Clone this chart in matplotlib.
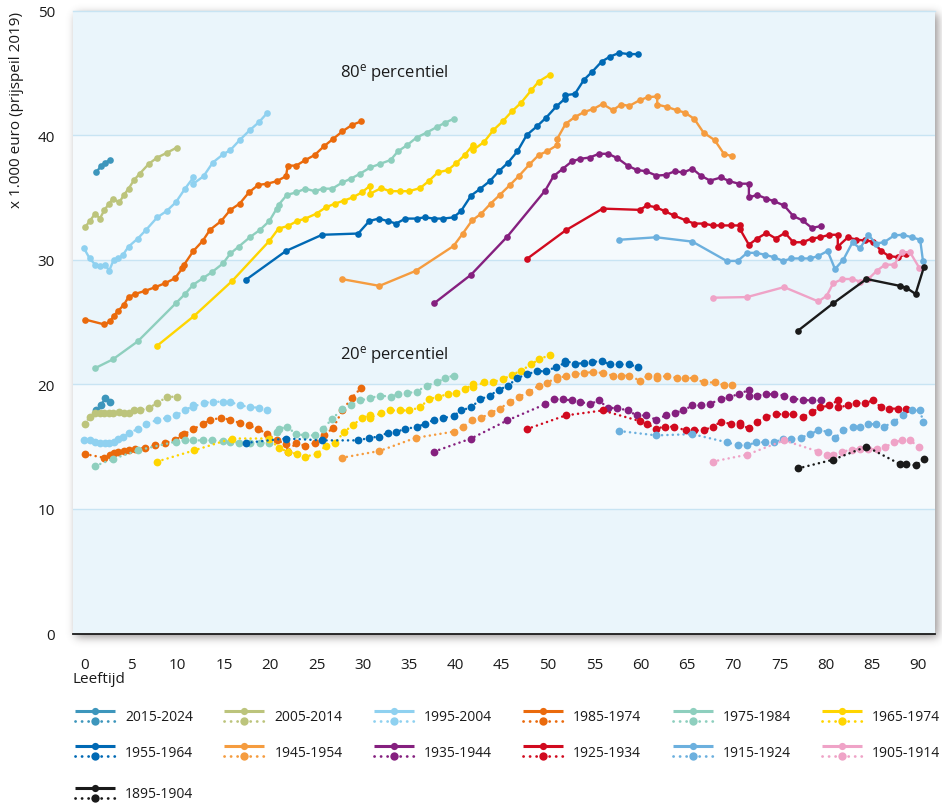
import numpy as np
import matplotlib
matplotlib.use("Agg")
import matplotlib.pyplot as plt
from matplotlib.lines import Line2D
from matplotlib.legend_handler import HandlerBase

plt.rcParams['font.family'] = ['Open Sans', 'DejaVu Sans']
plt.rcParams['mathtext.default'] = 'regular'

# ---------------- data ----------------
cohort_labels = ["2015-2024", "2005-2014", "1995-2004", "1985-1974", "1975-1984", "1965-1974",
                 "1955-1964", "1945-1954", "1935-1944", "1925-1934", "1915-1924", "1905-1914",
                 "1895-1904"]
cohort_colors = ["#3d96bc", "#bcc47c", "#8fd1f0", "#ea6a0c", "#8ecfbe", "#ffd500",
                 "#0069b4", "#f59c3f", "#85207f", "#d10a1f", "#6cb0de", "#efa3c7",
                 "#1a1a1a"]

age_2015 = [1.2, 1.7, 2.2, 2.7]
p80_2015 = [37.0, 37.5, 37.8, 38.0]
p20_2015 = [17.9, 18.3, 18.9, 18.6]

age_2005 = [0.0, 0.5, 1.1, 1.6, 2.1, 2.6, 3.0, 3.7, 4.2, 4.7, 5.3, 5.9, 6.9, 7.8, 8.9, 9.9]
p80_2005 = [32.6, 33.1, 33.7, 33.3, 34.0, 34.5, 34.9, 34.6, 35.2, 35.7, 36.4, 36.9, 37.7, 38.2, 38.6, 39.0]
p20_2005 = [16.8, 17.4, 17.7, 17.7, 17.7, 17.7, 17.7, 17.8, 17.7, 17.7, 17.9, 17.9, 18.1, 18.5, 19.0, 19.0]

age_1995 = [-0.1, 0.5, 1.1, 1.6, 2.2, 2.6, 3.1, 3.6, 4.1, 4.7, 5.7, 6.6, 7.8, 8.8, 9.8, 10.8, 11.7, 11.7,
            12.8, 13.8, 14.9, 15.7, 16.7, 17.8, 18.8, 19.7]
p80_1995 = [30.9, 30.1, 29.6, 29.5, 29.6, 29.1, 30.0, 30.1, 30.4, 31.05, 31.7, 32.4, 33.4, 33.9, 34.6, 35.7,
            36.6, 36.1, 36.7, 37.8, 38.45, 38.8, 39.6, 40.4, 41.05, 41.8]
p20_1995 = [15.5, 15.5, 15.4, 15.3, 15.3, 15.3, 15.4, 15.6, 15.8, 16.1, 16.4, 16.8, 17.15, 17.3, 17.5, 17.9,
            18.3, 18.2, 18.5, 18.6, 18.6, 18.6, 18.3, 18.2, 18.1, 17.9]

age_1985 = [0.0, 2.1, 2.7, 3.1, 3.6, 4.2, 4.7, 5.4, 6.5, 7.6, 8.6, 9.7, 10.5, 10.7, 11.7, 12.7, 13.5, 14.7,
            15.7, 16.7, 17.7, 18.7, 19.7, 20.7, 21.7, 21.9, 22.8, 23.8, 24.8, 25.8, 26.8, 27.8, 28.8, 29.8]
p80_1985 = [25.2, 24.8, 25.05, 25.5, 25.9, 26.4, 27.0, 27.25, 27.5, 27.8, 28.1, 28.5, 29.3, 29.6, 30.7, 31.5,
            32.4, 33.1, 34.0, 34.5, 35.4, 36.0, 36.1, 36.3, 36.7, 37.55, 37.55, 38.0, 38.4, 39.1, 39.7, 40.3,
            40.8, 41.1]
p20_1985 = [14.4, 14.1, 14.3, 14.5, 14.6, 14.65, 14.7, 14.8, 14.9, 15.1, 15.3, 15.5, 15.9, 16.0, 16.4, 16.8,
            17.15, 17.3, 17.15, 16.9, 16.7, 16.4, 16.0, 15.5, 15.2, 14.6, 15.3, 15.05, 15.3, 15.9, 16.5, 17.9,
            18.9, 19.7]

age_1975 = [1.1, 3.0, 5.7, 9.8, 10.8, 11.7, 12.7, 13.7, 14.9, 15.7, 16.6, 17.8, 18.9, 19.9, 20.7, 20.9, 21.8,
            22.8, 23.8, 24.8, 25.7, 26.7, 27.8, 28.7, 29.7, 30.8, 31.9, 33.0, 33.8, 34.8, 35.8, 36.9, 38.0,
            38.9, 39.8]
p80_1975 = [21.3, 22.0, 23.45, 26.5, 27.25, 28.0, 28.5, 29.0, 29.7, 30.5, 31.05, 31.8, 32.4, 33.1, 34.1, 34.4,
            35.2, 35.4, 35.7, 35.5, 35.7, 35.7, 36.2, 36.5, 36.9, 37.4, 37.7, 38.0, 38.7, 39.2, 39.8, 40.2,
            40.65, 41.0, 41.3]
p20_1975 = [13.45, 14.0, 14.7, 15.4, 15.5, 15.5, 15.5, 15.5, 15.45, 15.4, 15.3, 15.3, 15.3, 15.3, 16.2, 16.4,
            16.6, 16.0, 15.9, 15.9, 16.4, 17.25, 18.0, 18.3, 18.7, 18.9, 19.1, 19.0, 19.2, 19.3, 19.4, 19.9,
            20.15, 20.5, 20.7]

age_1965 = [7.8, 11.8, 15.9, 19.9, 20.9, 21.9, 22.9, 23.8, 25.0, 26.0, 27.0, 28.0, 28.9, 29.9, 30.8, 30.8,
            32.0, 32.9, 34.0, 35.0, 36.2, 37.1, 38.1, 39.2, 40.1, 41.0, 41.9, 41.9, 43.1, 44.1, 45.1, 46.1,
            47.1, 48.2, 49.0, 50.2]
p80_1965 = [23.1, 25.5, 28.3, 31.5, 32.5, 32.7, 33.1, 33.3, 33.7, 34.2, 34.5, 34.75, 35.0, 35.4, 35.95, 35.3,
            35.75, 35.5, 35.5, 35.5, 35.75, 36.3, 37.0, 37.2, 37.75, 38.4, 39.2, 38.8, 39.45, 40.4, 41.1, 41.9,
            42.6, 43.6, 44.3, 44.85]
p20_1965 = [13.8, 14.7, 15.65, 15.65, 14.9, 14.6, 14.4, 14.2, 14.4, 15.05, 15.3, 16.2, 16.7, 17.3, 17.5, 17.3,
            17.7, 17.9, 17.9, 17.9, 18.15, 18.8, 19.0, 19.2, 19.3, 19.6, 20.0, 19.8, 20.15, 20.2, 20.4, 20.75,
            21.1, 21.6, 22.0, 22.35]

age_1955 = [17.4, 21.7, 25.6, 29.5, 30.7, 31.7, 32.7, 33.6, 34.6, 35.8, 36.7, 37.7, 38.7, 39.8, 40.6, 41.7,
            42.7, 43.7, 44.7, 45.7, 46.7, 47.7, 48.8, 49.8, 50.9, 51.8, 51.8, 52.9, 53.9, 54.8, 55.8, 56.7,
            57.7, 58.7, 59.7]
p80_1955 = [28.4, 30.7, 32.0, 32.1, 33.1, 33.3, 33.1, 32.9, 33.3, 33.3, 33.4, 33.3, 33.3, 33.4, 33.9, 35.15,
            35.7, 36.3, 37.1, 37.8, 38.7, 40.0, 40.7, 41.4, 42.3, 42.9, 43.2, 43.3, 44.45, 45.1, 45.9, 46.3,
            46.6, 46.5, 46.5]
p20_1955 = [15.3, 15.65, 15.5, 15.5, 15.7, 15.8, 16.1, 16.2, 16.4, 16.6, 16.8, 17.15, 17.3, 17.45, 17.9, 18.15,
            18.8, 19.1, 19.55, 19.9, 20.5, 20.8, 21.05, 21.05, 21.4, 21.7, 21.9, 21.65, 21.7, 21.8, 21.85, 21.6,
            21.6, 21.6, 21.4]

age_1945 = [27.7, 31.8, 35.7, 39.8, 40.8, 41.8, 42.8, 43.8, 44.8, 45.9, 46.9, 48.0, 49.0, 49.9, 51.0, 51.0,
            51.9, 52.9, 53.9, 54.9, 55.9, 57.0, 57.9, 58.8, 59.9, 60.8, 61.8, 61.8, 62.9, 63.9, 64.8, 65.8,
            66.8, 68.0, 69.0, 69.9]
p80_1945 = [28.45, 27.9, 29.1, 31.1, 32.1, 33.15, 33.7, 34.5, 35.2, 36.0, 36.75, 37.65, 38.4, 38.7, 39.2, 39.7,
            40.9, 41.45, 41.85, 42.1, 42.5, 42.0, 42.45, 42.35, 42.8, 43.05, 43.1, 42.45, 42.25, 42.0, 41.8,
            41.3, 40.2, 39.6, 38.5, 38.3]
p20_1945 = [14.1, 14.65, 15.7, 16.2, 16.6, 17.1, 17.3, 17.7, 18.05, 18.6, 19.0, 19.4, 19.9, 20.1, 20.6, 20.4,
            20.7, 20.8, 20.9, 21.0, 20.9, 20.7, 20.7, 20.7, 20.3, 20.7, 20.7, 20.5, 20.7, 20.5, 20.5, 20.5,
            20.15, 20.15, 19.95, 19.95]

age_1935 = [37.7, 41.7, 45.6, 49.7, 50.6, 51.6, 52.6, 53.5, 54.5, 55.5, 56.5, 57.5, 58.6, 59.6, 60.6, 61.7,
            62.7, 63.7, 64.6, 65.6, 66.5, 67.5, 68.7, 69.6, 70.6, 71.7, 71.7, 72.6, 73.6, 74.4, 75.5, 76.5,
            77.5, 78.5, 79.5]
p80_1935 = [26.5, 28.8, 31.85, 35.55, 36.7, 37.3, 37.9, 38.1, 38.2, 38.5, 38.5, 38.15, 37.55, 37.2, 37.1,
            36.75, 36.8, 37.1, 37.0, 37.3, 36.75, 36.35, 36.6, 36.3, 36.1, 36.1, 35.0, 35.2, 34.9, 34.7,
            34.35, 33.5, 33.15, 32.55, 32.7]
p20_1935 = [14.6, 15.65, 17.1, 18.4, 18.8, 18.8, 18.7, 18.6, 18.4, 18.7, 18.1, 18.1, 17.9, 17.5, 17.5, 17.15,
            17.5, 17.7, 17.9, 18.3, 18.3, 18.45, 18.8, 19.0, 19.2, 19.55, 19.1, 19.1, 19.2, 19.2, 19.1, 18.85,
            18.75, 18.7, 18.7]

age_1925 = [47.7, 51.9, 55.9, 59.9, 60.7, 61.7, 62.6, 63.6, 64.9, 65.8, 66.8, 67.8, 68.7, 69.8, 70.7, 70.7,
            71.7, 72.6, 73.6, 74.6, 75.6, 76.5, 77.5, 78.5, 79.4, 80.4, 81.3, 81.3, 82.4, 83.3, 84.2, 85.1,
            86.0, 86.8, 87.8, 88.7]
p80_1925 = [30.05, 32.35, 34.1, 34.0, 34.35, 34.2, 33.9, 33.55, 33.15, 32.9, 32.9, 32.75, 32.75, 32.75,
            32.75, 32.5, 31.2, 31.7, 32.15, 31.7, 32.15, 31.4, 31.4, 31.7, 31.8, 32.0, 32.0, 31.05, 31.8,
            31.6, 31.55, 31.45, 30.7, 30.3, 30.2, 30.45]
p20_1925 = [16.4, 17.5, 17.9, 17.05, 16.8, 16.45, 16.6, 16.6, 16.3, 16.3, 16.3, 16.6, 17.0, 16.8, 16.9, 16.7,
            16.5, 17.0, 17.4, 17.6, 17.6, 17.6, 17.35, 17.75, 18.15, 18.3, 18.7, 18.15, 18.3, 18.5, 18.5, 18.7,
            18.15, 18.05, 18.05, 18.05]

age_1915 = [57.7, 61.7, 65.6, 69.3, 70.5, 71.5, 72.5, 73.4, 74.4, 75.4, 76.3, 77.3, 78.3, 79.2, 80.2, 81.0,
            81.9, 82.9, 83.7, 84.6, 85.4, 86.3, 87.4, 88.3, 89.3, 90.2, 90.5]
p80_1915 = [31.6, 31.8, 31.45, 29.9, 29.9, 30.55, 30.55, 30.4, 30.2, 29.9, 30.1, 30.1, 30.1, 30.3, 30.7,
            29.25, 30.0, 31.4, 30.9, 32.0, 31.3, 31.4, 31.95, 32.0, 31.8, 31.6, 29.9]
p20_1915 = [16.25, 15.9, 16.0, 15.35, 15.1, 15.1, 15.35, 15.35, 15.35, 15.6, 15.6, 15.7, 16.0, 16.3, 16.2,
            15.7, 16.3, 16.6, 16.6, 16.8, 16.8, 16.6, 17.0, 17.5, 17.9, 17.9, 17.0]

age_1905 = [67.8, 71.5, 75.5, 79.2, 80.1, 80.8, 81.8, 82.8, 83.7, 84.6, 85.5, 86.4, 87.4, 88.2, 89.1, 90.1]
p80_1905 = [26.95, 27.0, 27.8, 26.65, 27.1, 28.1, 28.45, 28.45, 28.25, 28.45, 29.1, 29.6, 29.6, 30.6, 30.6, 29.35]
p20_1905 = [13.8, 14.35, 15.5, 14.6, 14.35, 14.35, 14.6, 14.75, 14.8, 14.8, 14.8, 14.95, 15.35, 15.5, 15.5, 14.95]

age_1895 = [77.0, 80.8, 84.4, 88.0, 88.7, 89.7, 90.6]
p80_1895 = [24.3, 26.5, 28.45, 27.9, 27.75, 27.25, 29.4]
p20_1895 = [13.25, 13.95, 15.0, 13.6, 13.6, 13.5, 14.0]

x_ticks = list(range(0, 95, 5))
y_ticks = [0, 10, 20, 30, 40, 50]
x_label = "Leeftijd"
y_label = "x 1.000 euro (prijspeil 2019)"
label_p80 = "80$^{e}$ percentiel"
label_p20 = "20$^{e}$ percentiel"

ages = [age_2015, age_2005, age_1995, age_1985, age_1975, age_1965, age_1955,
        age_1945, age_1935, age_1925, age_1915, age_1905, age_1895]
p80s = [p80_2015, p80_2005, p80_1995, p80_1985, p80_1975, p80_1965, p80_1955,
        p80_1945, p80_1935, p80_1925, p80_1915, p80_1905, p80_1895]
p20s = [p20_2015, p20_2005, p20_1995, p20_1985, p20_1975, p20_1965, p20_1955,
        p20_1945, p20_1935, p20_1925, p20_1915, p20_1905, p20_1895]

# ---------------- layout ----------------
W, H = 942, 804
L, R, T, B = 73, 935, 11.5, 634.5
fig = plt.figure(figsize=(W / 100, H / 100), dpi=100)
fig.patch.set_facecolor("white")
ax = fig.add_axes([L / W, 1 - B / H, (R - L) / W, (B - T) / H])

# drop shadow behind the plot area
mask = np.zeros((H, W))
ox, oy = 3, 4
mask[int(T + oy):int(B + oy), int(L + ox):int(R + ox)] = 1.0
xs = np.arange(-15, 16)
kern = np.exp(-xs ** 2 / (2 * 4.5 ** 2))
kern /= kern.sum()
blur = np.apply_along_axis(lambda r: np.convolve(r, kern, mode="same"), 1, mask)
blur = np.apply_along_axis(lambda c: np.convolve(c, kern, mode="same"), 0, blur)
shadow = np.zeros((H, W, 4))
shadow[..., 0] = 0.33
shadow[..., 1] = 0.30
shadow[..., 2] = 0.30
shadow[..., 3] = blur * 0.6
fig.figimage(shadow, xo=0, yo=0, origin="upper", zorder=-1)

ax.set_xlim(-1.3, 91.8)
ax.set_ylim(0, 50)
ax.set_facecolor("#eaf5fb")
band_cols = ["#eaf5fb", "#f5fafd"]
for i in range(len(y_ticks) - 1):
    ax.axhspan(y_ticks[i], y_ticks[i + 1], color=band_cols[i % 2], lw=0, zorder=0)
for yv in y_ticks[1:-1]:
    ax.axhline(yv, color="#c8e4f3", lw=1.0, zorder=0.5)

for s in ["left", "right"]:
    ax.spines[s].set_visible(False)
ax.spines["top"].set_color("#c8e4f3")
ax.spines["top"].set_linewidth(1.0)
ax.spines["bottom"].set_color("#1a1a1a")
ax.spines["bottom"].set_linewidth(1.3)

ax.set_xticks(x_ticks)
ax.set_yticks(y_ticks)
ax.tick_params(axis="both", length=0, labelsize=11, colors="#1a1a1a")
ax.tick_params(axis="y", pad=13)
ax.tick_params(axis="x", pad=17)

dotted = (0, (0.05, 2.1))
for i, (a, v80, v20, c) in enumerate(zip(ages, p80s, p20s, cohort_colors)):
    z = 3 + i * 0.01
    ax.plot(a, v20, color=c, lw=1.8, linestyle=dotted, dash_capstyle="round",
            marker="o", ms=5.6, mew=0, zorder=z)
    ax.plot(a, v80, color=c, lw=1.7, linestyle="-", solid_joinstyle="round",
            marker="o", ms=4.8, mew=0, zorder=z + 0.5)

ax.text(27.5, 45.1, label_p80, fontsize=12, color="#1a1a1a", va="center", ha="left", zorder=5)
ax.text(27.5, 22.45, label_p20, fontsize=12, color="#1a1a1a", va="center", ha="left", zorder=5)

fig.text(L / W, 1 - 680 / H, x_label, fontsize=11, color="#1a1a1a", ha="left", va="center")
fig.text(17 / W, 1 - 12 / H, y_label, fontsize=11, color="#1a1a1a", rotation=90,
         ha="center", va="top")


# ---------------- legend ----------------
class CohortHandler(HandlerBase):
    def create_artists(self, legend, orig_handle, xdescent, ydescent, width, height, fontsize, trans):
        c = orig_handle.get_color()
        x0, x1 = -xdescent, width - xdescent
        xm = (x0 + x1) / 2
        yc = -ydescent + height / 2
        dy = 3.85
        top = Line2D([x0, x1], [yc + dy, yc + dy], color=c, lw=2.2, solid_capstyle="butt")
        topm = Line2D([xm], [yc + dy], color=c, lw=0, marker="o", ms=5.2, mew=0)
        bot = Line2D([x0, x1], [yc - dy, yc - dy], color=c, lw=2.0, linestyle=(0, (0.05, 2.3)),
                     dash_capstyle="round")
        botm = Line2D([xm], [yc - dy], color=c, lw=0, marker="o", ms=6.0, mew=0)
        arts = [top, topm, bot, botm]
        for art in arts:
            art.set_transform(trans)
        return arts


handles = [Line2D([], [], color=c) for c in cohort_colors]
# legend fills column by column: interleave the two rows
order = [0, 6, 1, 7, 2, 8, 3, 9, 4, 10, 5, 11]
fs_leg = 10
common = dict(frameon=False, fontsize=fs_leg, handlelength=2.88, handleheight=1.6,
              handletextpad=0.72, borderpad=0, borderaxespad=0,
              handler_map={Line2D: CohortHandler()})
leg1 = fig.legend([handles[k] for k in order], [cohort_labels[k] for k in order], ncol=6,
                  loc="upper left", bbox_to_anchor=(75 / W, 1 - 708 / H), columnspacing=2.25,
                  labelspacing=1.25, **common)
for t in leg1.get_texts():
    t.set_color("#1a1a1a")
leg2 = fig.legend(handles[12:], cohort_labels[12:], ncol=1, loc="upper left",
                  bbox_to_anchor=(75 / W, 1 - 785 / H), **common)
for t in leg2.get_texts():
    t.set_color("#1a1a1a")

fig.savefig("out.png", dpi=100)
